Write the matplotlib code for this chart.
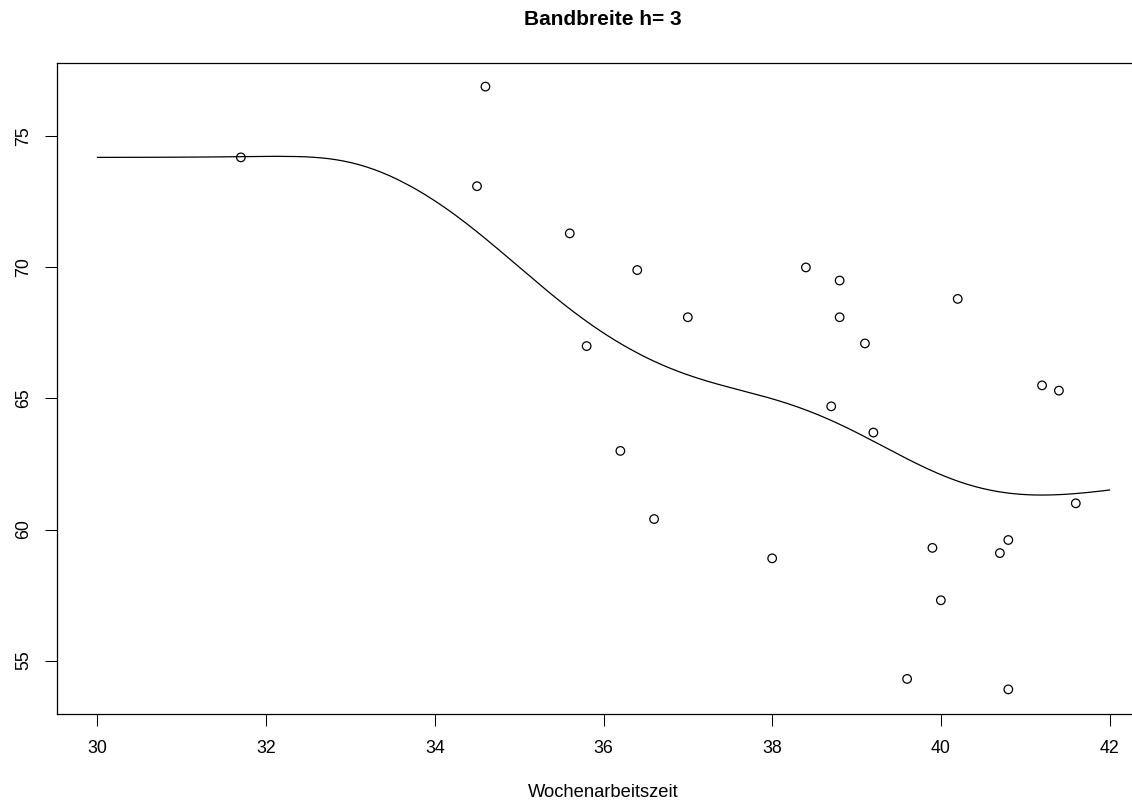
import numpy as np
import matplotlib
matplotlib.use("Agg")
import matplotlib.pyplot as plt

plt.rcParams['font.family'] = ['Liberation Sans', 'DejaVu Sans']

# Wochenarbeitszeit (x) und Werte (y)
arbeitszeit = [31.7, 34.6, 34.5, 35.6, 36.4, 35.8, 37.0, 36.2, 36.6, 38.0,
               38.4, 38.8, 38.8, 39.1, 38.7, 39.2, 40.2, 41.2, 41.4, 41.6,
               39.9, 39.6, 40.0, 40.7, 40.8, 40.8]
werte = [74.2, 76.9, 73.1, 71.3, 69.9, 67.0, 68.1, 63.0, 60.4, 58.9,
         70.0, 69.5, 68.1, 67.1, 64.7, 63.7, 68.8, 65.5, 65.3, 61.0,
         59.3, 54.3, 57.3, 59.1, 59.6, 53.9]
bandbreite = 3
x_bereich = (30, 42)
x_ticks = [30, 32, 34, 36, 38, 40, 42]
y_ticks = [55, 60, 65, 70, 75]

xd = np.array(arbeitszeit)
yd = np.array(werte)

# Kernschaetzer wie R ksmooth(kernel="normal")
bw = 0.3706506 * bandbreite
cutoff = 4 * bw
xs = np.linspace(x_bereich[0], x_bereich[1], 400)
ys = []
for x0 in xs:
    d = np.abs(xd - x0)
    m = d < cutoff
    w = np.exp(-0.5 * (d[m] / bw) ** 2)
    ys.append(np.sum(w * yd[m]) / np.sum(w))

fig = plt.figure(figsize=(11.32, 8.01), dpi=100)
W, H = 1132, 801
left, right, top, bottom = 57, 1150, 62.5, 713.5
ax = fig.add_axes([left / W, 1 - bottom / H, (right - left) / W, (bottom - top) / H])

ax.plot(xs, ys, color="black", lw=0.9)
ax.scatter(xd, yd, s=38, facecolors="none", edgecolors="black", linewidths=0.9)

ax.set_xlim(29.52, 42.48)
ax.set_ylim(52.98, 77.82)
ax.set_xticks(x_ticks)
ax.set_yticks(y_ticks)
ax.set_yticklabels([str(t) for t in y_ticks], rotation=90, va="center")
ax.tick_params(direction="out", length=8.3, width=0.75, labelsize=12.8)
ax.tick_params(axis="x", pad=10.5)
ax.tick_params(axis="y", pad=9.5)
for s in ax.spines.values():
    s.set_linewidth(0.9)

fig.text(603 / W, 1 - 25 / H, "Bandbreite h= 3", ha="center", va="baseline",
         fontsize=15, fontweight="bold")
fig.text(603 / W, 1 - 797 / H, "Wochenarbeitszeit", ha="center", va="baseline",
         fontsize=13.2)

fig.savefig("out.png", dpi=100)
